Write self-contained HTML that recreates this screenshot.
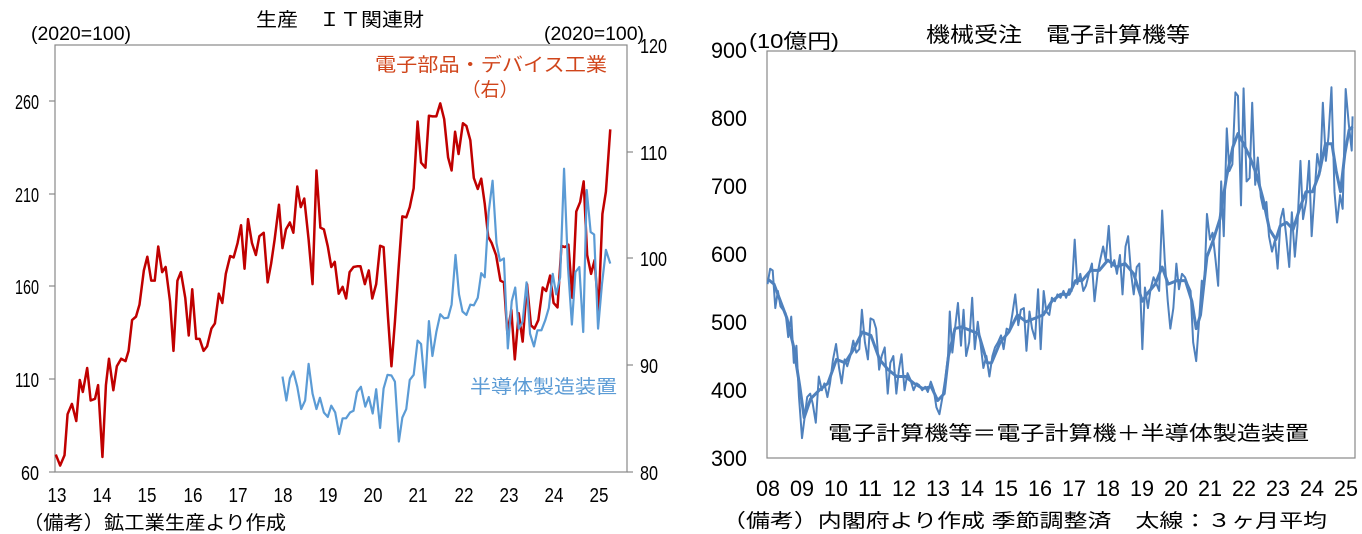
<!DOCTYPE html>
<html><head><meta charset="utf-8"><style>
html,body{margin:0;padding:0;background:#fff;}
svg{display:block;font-family:"Liberation Sans","Noto Sans CJK JP",sans-serif;}
</style></head><body>
<svg width="1362" height="534" viewBox="0 0 1362 534" xmlns="http://www.w3.org/2000/svg">
<rect width="1362" height="534" fill="#fff"/>
<rect x="55" y="45" width="572" height="427" fill="none" stroke="#888" stroke-width="1.2"/>
<g stroke="#888" stroke-width="1.2">
<line x1="49" y1="101" x2="55" y2="101"/><line x1="49" y1="194" x2="55" y2="194"/><line x1="49" y1="286" x2="55" y2="286"/><line x1="49" y1="379" x2="55" y2="379"/><line x1="49" y1="472" x2="55" y2="472"/>
<line x1="627" y1="152" x2="633" y2="152"/><line x1="627" y1="258" x2="633" y2="258"/><line x1="627" y1="365" x2="633" y2="365"/><line x1="627" y1="472" x2="633" y2="472"/>
</g>
<g font-size="20" fill="#000">
<text x="256" y="26" font-size="19" textLength="168" lengthAdjust="spacingAndGlyphs">生産　ＩＴ関連財</text>
<text x="31" y="40" font-size="19" textLength="100" lengthAdjust="spacingAndGlyphs">(2020=100)</text>
<text x="544" y="40" font-size="19" textLength="100" lengthAdjust="spacingAndGlyphs">(2020=100)</text>
<g text-anchor="end">
<text x="39" y="109" textLength="24" lengthAdjust="spacingAndGlyphs">260</text>
<text x="39" y="202" textLength="24" lengthAdjust="spacingAndGlyphs">210</text>
<text x="39" y="294" textLength="24" lengthAdjust="spacingAndGlyphs">160</text>
<text x="39" y="387" textLength="24" lengthAdjust="spacingAndGlyphs">110</text>
<text x="39" y="480" textLength="18" lengthAdjust="spacingAndGlyphs">60</text>
</g>
<text x="640" y="53" textLength="27" lengthAdjust="spacingAndGlyphs">120</text>
<text x="640" y="160" textLength="27" lengthAdjust="spacingAndGlyphs">110</text>
<text x="640" y="266" textLength="27" lengthAdjust="spacingAndGlyphs">100</text>
<text x="640" y="373" textLength="18" lengthAdjust="spacingAndGlyphs">90</text>
<text x="640" y="480" textLength="18" lengthAdjust="spacingAndGlyphs">80</text>
<g text-anchor="middle">
<text x="57" y="502" textLength="19" lengthAdjust="spacingAndGlyphs">13</text><text x="102" y="502" textLength="19" lengthAdjust="spacingAndGlyphs">14</text><text x="147" y="502" textLength="19" lengthAdjust="spacingAndGlyphs">15</text><text x="193" y="502" textLength="19" lengthAdjust="spacingAndGlyphs">16</text><text x="238" y="502" textLength="19" lengthAdjust="spacingAndGlyphs">17</text><text x="283" y="502" textLength="19" lengthAdjust="spacingAndGlyphs">18</text><text x="328" y="502" textLength="19" lengthAdjust="spacingAndGlyphs">19</text><text x="373" y="502" textLength="19" lengthAdjust="spacingAndGlyphs">20</text><text x="418" y="502" textLength="19" lengthAdjust="spacingAndGlyphs">21</text><text x="464" y="502" textLength="19" lengthAdjust="spacingAndGlyphs">22</text><text x="509" y="502" textLength="19" lengthAdjust="spacingAndGlyphs">23</text><text x="554" y="502" textLength="19" lengthAdjust="spacingAndGlyphs">24</text><text x="599" y="502" textLength="19" lengthAdjust="spacingAndGlyphs">25</text>
</g>
<text x="23" y="529" font-size="19" textLength="263" lengthAdjust="spacingAndGlyphs">（備考）鉱工業生産より作成</text>
<text x="375" y="71" fill="#d0451b" font-size="19" textLength="232" lengthAdjust="spacingAndGlyphs">電子部品・デバイス工業</text>
<text x="490" y="96" text-anchor="middle" fill="#d0451b" font-size="19">（右）</text>
<text x="470" y="393" fill="#5b9bd5" font-size="19" textLength="147" lengthAdjust="spacingAndGlyphs">半導体製造装置</text>
</g>
<g transform="scale(0.4359,0.3423)" fill="none" stroke-linejoin="round">
<polyline vector-effect="non-scaling-stroke" stroke="#c00000" stroke-width="2.5" points="128,1328 138,1360 148,1330 155,1210 165,1180 175,1230 183,1110 190,1145 200,1075 208,1170 218,1165 225,1125 235,1335 243,1125 250,1048 260,1140 268,1070 278,1048 288,1055 295,1025 303,935 312,925 320,890 330,790 338,750 347,820 355,820 363,720 372,795 380,780 390,880 398,1025 407,820 415,795 425,870 433,980 441,845 450,990 458,990 467,1025 475,1012 485,960 493,945 502,858 510,885 518,800 528,748 536,752 545,710 553,658 561,785 569,640 578,710 587,745 595,690 605,680 614,825 622,770 630,700 640,598 648,725 656,670 665,650 673,680 682,545 690,605 698,580 708,700 717,830 726,498 735,665 743,670 752,720 760,780 768,765 777,858 786,838 794,872 802,795 811,780 819,778 827,778 837,830 846,790 854,872 863,830 872,718 880,722 890,925 898,1070 906,940 914,790 923,632 932,635 940,605 949,550 958,355 966,475 976,490 984,338 992,340 1001,340 1010,302 1019,348 1028,460 1036,498 1044,385 1052,450 1062,360 1070,368 1079,410 1087,520 1096,552 1104,522 1112,595 1120,692 1128,710 1138,745 1148,820 1156,825 1164,975 1173,905 1181,1050 1190,915 1199,998 1209,830 1218,950 1226,960 1235,935 1245,840 1253,850 1262,805 1270,885 1279,898 1288,718 1296,722 1304,715 1313,870 1322,618 1331,590 1339,530 1347,745 1356,800 1364,760 1373,910 1382,625 1390,560 1400,378"/>
<polyline vector-effect="non-scaling-stroke" stroke="#5b9bd5" stroke-width="2.2" points="648,1100 657,1170 665,1105 673,1085 682,1130 691,1195 700,1170 708,1063 717,1150 726,1195 734,1162 743,1205 752,1218 760,1185 769,1205 778,1268 786,1222 794,1222 803,1205 811,1200 819,1145 828,1130 838,1188 846,1160 855,1208 863,1137 872,1250 880,1135 889,1095 898,1097 906,1115 915,1290 923,1220 932,1195 940,1110 949,1095 958,995 966,1005 975,1132 984,938 992,1040 1001,970 1010,918 1019,930 1028,928 1036,890 1045,745 1053,860 1061,910 1070,920 1079,890 1087,892 1096,870 1104,798 1112,810 1121,620 1130,528 1139,710 1147,762 1156,755 1165,1018 1174,880 1182,840 1190,960 1199,940 1208,825 1216,975 1225,1012 1233,965 1242,965 1251,935 1259,900 1268,800 1276,860 1285,810 1294,493 1303,780 1312,948 1320,795 1329,780 1338,970 1346,555 1355,678 1363,685 1372,960 1381,830 1390,730 1400,770"/>
</g>
<rect x="767" y="51" width="588" height="407" fill="none" stroke="#888" stroke-width="1.2"/>
<g font-size="22" fill="#000">
<text x="926" y="42" font-size="21" textLength="264" lengthAdjust="spacingAndGlyphs">機械受注　電子計算機等</text>
<text x="749" y="48" font-size="20" textLength="90" lengthAdjust="spacingAndGlyphs">(10億円)</text>
<g text-anchor="end">
<text x="747" y="58" textLength="36" lengthAdjust="spacingAndGlyphs">900</text>
<text x="747" y="126" textLength="36" lengthAdjust="spacingAndGlyphs">800</text>
<text x="747" y="194" textLength="36" lengthAdjust="spacingAndGlyphs">700</text>
<text x="747" y="262" textLength="36" lengthAdjust="spacingAndGlyphs">600</text>
<text x="747" y="330" textLength="36" lengthAdjust="spacingAndGlyphs">500</text>
<text x="747" y="398" textLength="36" lengthAdjust="spacingAndGlyphs">400</text>
<text x="747" y="466" textLength="36" lengthAdjust="spacingAndGlyphs">300</text>
</g>
<g text-anchor="middle">
<text x="768" y="496" textLength="24" lengthAdjust="spacingAndGlyphs">08</text><text x="802" y="496" textLength="24" lengthAdjust="spacingAndGlyphs">09</text><text x="836" y="496" textLength="24" lengthAdjust="spacingAndGlyphs">10</text><text x="870" y="496" textLength="24" lengthAdjust="spacingAndGlyphs">11</text><text x="904" y="496" textLength="24" lengthAdjust="spacingAndGlyphs">12</text><text x="938" y="496" textLength="24" lengthAdjust="spacingAndGlyphs">13</text><text x="972" y="496" textLength="24" lengthAdjust="spacingAndGlyphs">14</text><text x="1006" y="496" textLength="24" lengthAdjust="spacingAndGlyphs">15</text><text x="1040" y="496" textLength="24" lengthAdjust="spacingAndGlyphs">16</text><text x="1074" y="496" textLength="24" lengthAdjust="spacingAndGlyphs">17</text><text x="1108" y="496" textLength="24" lengthAdjust="spacingAndGlyphs">18</text><text x="1142" y="496" textLength="24" lengthAdjust="spacingAndGlyphs">19</text><text x="1176" y="496" textLength="24" lengthAdjust="spacingAndGlyphs">20</text><text x="1210" y="496" textLength="24" lengthAdjust="spacingAndGlyphs">21</text><text x="1244" y="496" textLength="24" lengthAdjust="spacingAndGlyphs">22</text><text x="1278" y="496" textLength="24" lengthAdjust="spacingAndGlyphs">23</text><text x="1312" y="496" textLength="24" lengthAdjust="spacingAndGlyphs">24</text><text x="1346" y="496" textLength="24" lengthAdjust="spacingAndGlyphs">25</text>
</g>
<text x="828" y="440" font-size="20" textLength="481" lengthAdjust="spacingAndGlyphs">電子計算機等＝電子計算機＋半導体製造装置</text>
<text x="722" y="527" font-size="19" textLength="605" lengthAdjust="spacingAndGlyphs">（備考）内閣府より作成 季節調整済　太線：３ヶ月平均</text>
</g>
<g transform="translate(690,0) scale(0.4308,0.3423)" fill="none" stroke="#4f81bd" stroke-linejoin="round">
<polyline vector-effect="non-scaling-stroke" stroke-width="2" points="180,830 186,785 192,790 198,900 204,850 210,895 216,905 222,915 228,985 235,925 241,1060 247,1010 253,1160 260,1280 266,1220 272,1160 279,1150 285,1180 292,1235 299,1100 306,1140 312,1120 319,1160 325,1120 332,1050 339,1005 346,1075 352,1120 359,1050 365,1070 372,1040 379,995 386,1030 393,1020 399,905 406,1000 413,1050 419,930 426,935 432,960 439,1080 445,1040 452,1015 459,1150 465,1060 472,1040 479,1150 485,1080 491,1035 498,1140 505,1090 512,1110 519,1140 526,1120 532,1125 539,1140 546,1130 552,1145 559,1115 566,1140 572,1190 579,1210 586,1160 592,1110 599,1040 603,910 609,1030 616,950 622,885 629,1010 635,905 641,1040 648,1000 655,870 661,1020 668,940 674,1000 681,1075 688,1040 695,1100 702,1040 708,1015 715,1000 722,980 728,1020 735,960 742,965 748,920 755,860 762,950 768,905 775,900 781,1025 788,910 794,960 801,990 808,845 814,1020 821,850 827,910 834,920 840,870 847,880 853,860 860,870 867,850 873,870 880,845 886,850 893,700 899,830 906,800 913,850 919,835 926,800 933,770 939,880 946,800 952,760 959,720 965,760 972,660 978,780 985,760 991,800 998,745 1004,860 1011,720 1017,690 1024,800 1030,860 1037,780 1043,770 1050,1020 1056,840 1063,900 1069,845 1076,810 1083,830 1089,850 1096,615 1102,760 1109,880 1115,960 1122,900 1129,770 1135,845 1142,800 1149,810 1155,830 1162,850 1168,1000 1175,1055 1181,950 1188,820 1194,830 1200,625 1207,700 1213,680 1220,760 1226,835 1233,530 1239,690 1246,375 1252,500 1259,480 1266,270 1272,280 1279,600 1285,258 1292,530 1299,520 1305,300 1312,540 1318,460 1325,575 1331,610 1338,590 1344,690 1351,735 1358,700 1364,785 1371,640 1377,610 1384,690 1391,780 1397,620 1404,750 1410,660 1417,470 1423,640 1430,590 1437,470 1443,690 1450,560 1456,450 1463,500 1469,300 1476,470 1482,400 1489,255 1496,560 1502,650 1509,570 1515,610 1522,260 1529,360 1536,440 1538,340"/>
<polyline vector-effect="non-scaling-stroke" stroke-width="3" points="180,815 195,830 210,880 225,930 240,1010 255,1130 265,1220 280,1165 300,1140 320,1120 340,1050 360,1060 380,1020 400,970 420,980 440,1050 460,1080 480,1100 500,1100 520,1120 540,1135 560,1130 575,1170 590,1150 600,1040 615,960 630,955 650,965 670,975 690,1060 700,1060 720,1000 740,970 760,920 780,940 800,930 820,920 840,880 860,860 880,860 895,820 910,820 930,790 950,790 970,760 990,780 1010,770 1030,800 1050,880 1060,860 1080,830 1096,780 1110,830 1130,820 1150,820 1165,880 1175,960 1185,920 1200,750 1215,700 1230,640 1245,520 1260,430 1272,390 1285,420 1300,460 1315,510 1330,580 1345,670 1360,700 1370,660 1385,650 1400,670 1415,610 1430,560 1445,560 1460,510 1475,420 1490,420 1500,500 1510,560 1520,450 1530,380 1538,370"/>
</g>
</svg>
</body></html>
